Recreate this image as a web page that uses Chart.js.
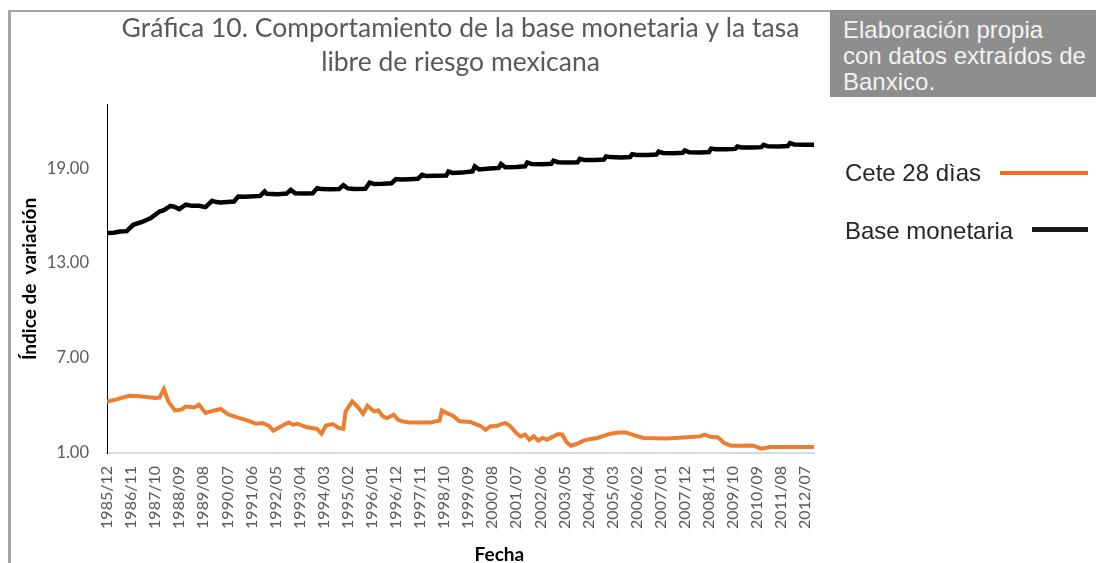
<!DOCTYPE html>
<html lang="es">
<head>
<meta charset="UTF-8">
<title>Gráfica 10. Base monetaria y tasa libre de riesgo</title>
<script src="https://cdn.jsdelivr.net/npm/chart.js@4.4.0/dist/chart.umd.min.js"></script>
<style>
    body { margin: 0; background: #fff; }
    #hoja { position: relative; width: 1096px; height: 563px; overflow: hidden; background: #fff; }
    #marco {
        position: absolute; left: 8px; top: 10px; width: 1200px; height: 700px;
        border-left: 3px solid #a6a6a6; border-top: 2px solid #a6a6a6;
    }
    #grafica { position: absolute; left: 0; top: 0; }
    .nota {
        position: absolute; left: 830px; top: 10px; width: 266px; height: 87px;
        box-sizing: border-box; padding: 7px 0 0 13px;
        background: #8e8e8e; color: #f2f2f2;
        font-family: "Liberation Sans", Arial, sans-serif; font-size: 24px; line-height: 26px;
    }
    .leyenda {
        position: absolute; left: 845px;
        font-family: "Liberation Sans", Arial, sans-serif; font-size: 24px; line-height: 28px;
        color: #262626; white-space: nowrap;
    }
    .muestra { position: absolute; }
</style>
</head>
<body>
<div id="hoja">
    <div id="marco"></div>
    <canvas id="grafica" width="1096" height="563"></canvas>
    <div class="nota">Elaboración propia<br>con datos extraídos de<br>Banxico.</div>
    <div class="leyenda" style="top:159px">Cete 28 dìas</div>
    <div class="muestra" style="left:1000px; top:171px; width:88px; height:4px; background:#f26b21"></div>
    <div class="leyenda" style="top:217px">Base monetaria</div>
    <div class="muestra" style="left:1032px; top:227px; width:56px; height:5px; background:#1a1a1a"></div>
</div>

<script>
    // meses contados desde 1985/12 (0 = dic 1985)
    var etiquetasX = ['1985/12', '1986/11', '1987/10', '1988/09', '1989/08', '1990/07', '1991/06', '1992/05',
        '1993/04', '1994/03', '1995/02', '1996/01', '1996/12', '1997/11', '1998/10', '1999/09', '2000/08',
        '2001/07', '2002/06', '2003/05', '2004/04', '2005/03', '2006/02', '2007/01', '2007/12', '2008/11',
        '2009/10', '2010/09', '2011/08', '2012/07'];
    var ticksY = [1, 7, 13, 19];

    var mesesBase = [0, 3, 6, 9, 12, 16, 20, 24, 26, 29, 31, 33, 36, 39, 42, 45, 48, 50, 52, 55, 58,
        60, 63, 67, 70, 72, 73, 78, 82, 84, 86, 90, 94, 96, 98, 102, 106, 108, 110, 113, 118,
        120, 122, 126, 130, 132, 134, 138, 142, 144, 146, 150, 155, 156, 158, 162, 167,
        168, 170, 175, 179, 180, 182, 187, 191, 192, 194, 199, 203, 204, 206, 211, 215,
        216, 218, 223, 227, 228, 230, 235, 239, 240, 242, 247, 251, 252, 254, 259, 263,
        264, 266, 271, 275, 276, 278, 283, 287, 288, 290, 295, 299, 300, 302, 307, 311,
        312, 314, 319, 323];
    var baseMonetaria = [14.90, 14.92, 15.00, 15.02, 15.42, 15.60, 15.85, 16.26, 16.35, 16.62, 16.55, 16.41,
        16.69, 16.62, 16.62, 16.54, 16.94, 16.86, 16.83, 16.86, 16.89,
        17.21, 17.20, 17.22, 17.25, 17.53, 17.38, 17.36, 17.40, 17.63, 17.42, 17.40, 17.42,
        17.74, 17.68, 17.67, 17.68, 17.93, 17.72, 17.68, 17.70,
        18.09, 18.00, 18.01, 18.05, 18.31, 18.28, 18.30, 18.33, 18.58, 18.50, 18.52, 18.54,
        18.79, 18.70, 18.72, 18.80, 19.11, 18.92, 18.98, 19.02, 19.26, 19.06, 19.08, 19.12,
        19.36, 19.26, 19.25, 19.28, 19.48, 19.38, 19.36, 19.38, 19.59, 19.52, 19.52, 19.55,
        19.74, 19.70, 19.68, 19.71, 19.89, 19.84, 19.83, 19.86, 20.05, 19.96, 19.95, 19.97,
        20.12, 20.00, 19.99, 20.02, 20.24, 20.20, 20.19, 20.22, 20.37, 20.31, 20.30, 20.33,
        20.48, 20.38, 20.37, 20.40, 20.58, 20.50, 20.48, 20.48];

    var mesesCete = [0, 4, 10, 15, 22, 24, 26, 28, 31, 34, 36, 40, 42, 45, 49, 52, 55, 58, 64, 68, 71,
        74, 76, 80, 83, 85, 87, 91, 96, 98, 100, 103, 106, 108, 109, 112, 115, 117, 119, 122, 124,
        126, 128, 131, 133, 135, 138, 143, 148, 150, 152, 153, 155, 158, 161, 166, 169, 171, 173,
        175, 178, 182, 184, 187, 189, 191, 193, 195, 197, 199, 201, 204, 206, 208, 210, 212, 215,
        217, 219, 224, 230, 234, 237, 240, 245, 256, 265, 271, 273, 276, 279, 282, 285, 289, 295,
        299, 303, 308, 312, 318, 323];
    var cete28 = [4.26, 4.37, 4.62, 4.58, 4.47, 4.50, 5.04, 4.26, 3.69, 3.74, 3.94, 3.88, 4.05, 3.53, 3.69,
        3.78, 3.46, 3.31, 3.06, 2.85, 2.90, 2.72, 2.41, 2.72, 2.93, 2.79, 2.85, 2.64, 2.52, 2.22, 2.74,
        2.83, 2.58, 2.52, 3.63, 4.26, 3.84, 3.48, 3.99, 3.63, 3.69, 3.31, 3.21, 3.42, 3.10, 3.00, 2.93,
        2.93, 2.93, 3.00, 3.05, 3.69, 3.53, 3.36, 3.00, 2.96, 2.79, 2.68, 2.47, 2.68, 2.72, 2.90, 2.72,
        2.26, 2.05, 2.16, 1.84, 2.05, 1.78, 1.95, 1.84, 2.05, 2.20, 2.16, 1.67, 1.46, 1.59, 1.73, 1.84,
        1.95, 2.22, 2.30, 2.30, 2.16, 1.95, 1.92, 1.99, 2.05, 2.16, 2.01, 1.99, 1.63, 1.46, 1.46, 1.48,
        1.27, 1.38, 1.38, 1.38, 1.38, 1.38];

    function puntos(meses, valores) {
        return meses.map(function (m, i) { return { x: m, y: valores[i] }; });
    }

    var fuente = 'Lato, "Open Sans", sans-serif';

    // "Fecha" va un poco a la derecha del centro y queda cortada abajo, como en el original
    var tituloEjeX = {
        id: 'tituloEjeX',
        afterDraw: function (chart) {
            var ctx = chart.ctx;
            var area = chart.chartArea;
            ctx.save();
            ctx.font = 'bold 19px ' + fuente;
            ctx.fillStyle = '#000';
            ctx.textAlign = 'center';
            ctx.textBaseline = 'alphabetic';
            ctx.fillText('Fecha', area.left + (area.right - area.left) * 0.555, area.bottom + 108);
            ctx.restore();
        }
    };

    new Chart(document.getElementById('grafica'), {
        type: 'line',
        data: {
            datasets: [
                {
                    label: 'Cete 28 dìas',
                    data: puntos(mesesCete, cete28),
                    borderColor: '#ed7d31',
                    borderWidth: 4,
                    pointRadius: 0,
                    tension: 0
                },
                {
                    label: 'Base monetaria',
                    data: puntos(mesesBase, baseMonetaria),
                    borderColor: '#000000',
                    borderWidth: 4.5,
                    pointRadius: 0,
                    tension: 0
                }
            ]
        },
        options: {
            responsive: false,
            animation: false,
            layout: { padding: { left: 10, right: 282, top: 0, bottom: 0 } },
            plugins: {
                legend: { display: false },
                tooltip: { enabled: false },
                title: {
                    display: true,
                    fullSize: false,
                    text: ['Gráfica 10. Comportamiento de la base monetaria y la tasa', 'libre de riesgo mexicana'],
                    color: '#595959',
                    font: { family: fuente, size: 26.5, weight: 'normal', lineHeight: 1.3 },
                    padding: { top: 11, bottom: 25 }
                }
            },
            scales: {
                x: {
                    type: 'linear',
                    min: 0,
                    max: 323,
                    grid: { display: false, drawTicks: false },
                    border: { display: true, color: '#d9d9d9', width: 2 },
                    afterBuildTicks: function (scale) {
                        scale.ticks = etiquetasX.map(function (e, i) { return { value: i * 11 }; });
                    },
                    afterFit: function (scale) { scale.height = 110; },
                    ticks: {
                        autoSkip: false,
                        minRotation: 90,
                        maxRotation: 90,
                        padding: 13,
                        color: '#595959',
                        font: { family: fuente, size: 16 },
                        callback: function (v, i) { return etiquetasX[i]; }
                    }
                },
                y: {
                    min: 1,
                    max: 23,
                    grid: { display: false, drawTicks: false },
                    border: { display: true, color: '#000', width: 1 },
                    afterBuildTicks: function (scale) {
                        scale.ticks = ticksY.map(function (v) { return { value: v }; });
                    },
                    afterFit: function (scale) { scale.width = 97; },
                    ticks: {
                        padding: 18,
                        color: '#595959',
                        font: { family: fuente, size: 16.5 },
                        callback: function (v) { return v.toFixed(2); }
                    },
                    title: {
                        display: true,
                        text: 'Índice de  variación',
                        color: '#000',
                        font: { family: fuente, size: 19, weight: 'bold' },
                        padding: { top: 8, bottom: 0 }
                    }
                }
            }
        },
        plugins: [tituloEjeX]
    });
</script>
</body>
</html>
